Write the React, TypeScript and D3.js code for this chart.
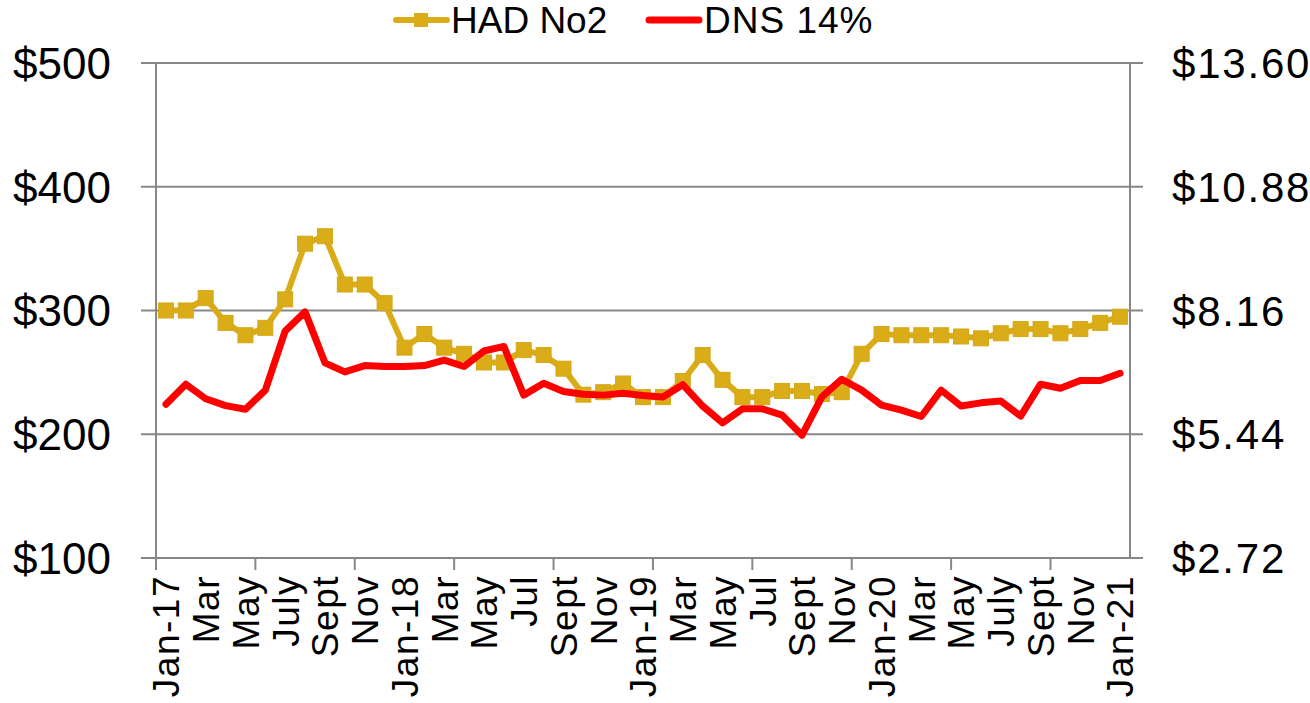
import React from "react";
import * as d3 from "d3";

const categories = [
  "Jan-17","Feb","Mar","Apr","May","Jun","July","Aug","Sept","Oct","Nov","Dec",
  "Jan-18","Feb","Mar","Apr","May","Jun","Jul","Aug","Sept","Oct","Nov","Dec",
  "Jan-19","Feb","Mar","Apr","May","Jun","Jul","Aug","Sept","Oct","Nov","Dec",
  "Jan-20","Feb","Mar","Apr","May","Jun","July","Aug","Sept","Oct","Nov","Dec",
  "Jan-21",
];

const hadNo2 = [
  300, 300, 310, 290, 280, 286, 309, 354, 360, 321, 321, 306,
  270, 281, 270, 265, 258, 258, 268, 264, 253, 232, 234, 241,
  230, 230, 243, 264, 244, 230, 230, 235, 235, 232.5, 234, 265,
  281, 280, 280, 280, 279, 277.5, 281.6, 285, 285, 281.6, 285, 290,
  295,
];

const dns14 = [
  6.10, 6.54, 6.22, 6.07, 5.99, 6.41, 7.71, 8.13, 7.01, 6.81, 6.95, 6.93,
  6.93, 6.95, 7.07, 6.93, 7.27, 7.37, 6.30, 6.56, 6.38, 6.32, 6.30, 6.34,
  6.29, 6.26, 6.53, 6.06, 5.69, 6.00, 6.00, 5.86, 5.42, 6.26, 6.65, 6.41,
  6.08, 5.97, 5.83, 6.41, 6.06, 6.13, 6.17, 5.84, 6.54, 6.45, 6.62, 6.62,
  6.78,
];

const leftTicks = [100, 200, 300, 400, 500];
const rightTicks = [2.72, 5.44, 8.16, 10.88, 13.6];

const GOLD = "#D9AC18";
const RED = "#FF0000";
const GRID = "#878787";

export default function App() {
  const W = 1310, H = 703;
  const left = 156, right = 1130, top = 63, bottom = 558;

  const x = d3.scaleBand<number>()
    .domain(d3.range(categories.length))
    .range([left, right])
    .paddingInner(0)
    .paddingOuter(0);
  const cx = (i: number) => (x(i) as number) + x.bandwidth() / 2;
  const yL = d3.scaleLinear().domain([100, 500]).range([bottom, top]);
  const yR = d3.scaleLinear().domain([2.72, 13.6]).range([bottom, top]);

  const lineL = d3.line<number>().x((_, i) => cx(i)).y((d) => yL(d));
  const lineR = d3.line<number>().x((_, i) => cx(i)).y((d) => yR(d));

  const tickIdx = d3.range(0, categories.length, 5);
  const geo = "'Liberation Sans', Arial, sans-serif";

  return (
    <svg
      width={W}
      height={H}
      style={{ position: "absolute", left: 0, top: 0, background: "#fff" }}
      fontFamily={geo}
    >
      {/* gridlines */}
      {leftTicks.map((t) => (
        <line key={"g" + t} x1={left} x2={right} y1={yL(t)} y2={yL(t)} stroke={GRID} strokeWidth={2} />
      ))}
      {/* axes */}
      <line x1={left} x2={left} y1={top} y2={bottom} stroke={GRID} strokeWidth={2} />
      <line x1={right} x2={right} y1={top} y2={bottom} stroke={GRID} strokeWidth={2} />
      <line x1={left} x2={right} y1={bottom} y2={bottom} stroke={GRID} strokeWidth={2} />
      {leftTicks.map((t) => (
        <line key={"lt" + t} x1={left - 15} x2={left} y1={yL(t)} y2={yL(t)} stroke={GRID} strokeWidth={2} />
      ))}
      {rightTicks.map((t) => (
        <line key={"rt" + t} x1={right} x2={right + 13} y1={yR(t)} y2={yR(t)} stroke={GRID} strokeWidth={2} />
      ))}
      {tickIdx.map((i) => (
        <line key={"xt" + i} x1={x(i) as number} x2={x(i) as number} y1={bottom} y2={bottom + 12} stroke={GRID} strokeWidth={2} />
      ))}
      {/* left labels */}
      {leftTicks.map((t) => (
        <text key={"ll" + t} x={111} y={yL(t)} dy="0.36em" textAnchor="end" fontSize={44} fill="#000">
          {"$" + t}
        </text>
      ))}
      {/* right labels */}
      {rightTicks.map((t) => (
        <text key={"rl" + t} x={1172} y={yR(t)} dy="0.36em" textAnchor="start" fontSize={42} letterSpacing={1.8} fill="#000">
          {"$" + t.toFixed(2)}
        </text>
      ))}
      {/* x labels */}
      {categories.map((c, i) =>
        i % 2 === 0 ? (
          <text
            key={"xl" + i}
            transform={`translate(${cx(i)},${bottom + 17}) rotate(-90)`}
            textAnchor="end"
            dy="0.36em"
            fontSize={37}
            letterSpacing={1.5}
            fill="#000"
          >
            {c}
          </text>
        ) : null
      )}
      {/* HAD line */}
      <path d={lineL(hadNo2) || ""} fill="none" stroke={GOLD} strokeWidth={6} strokeLinejoin="round" />
      {hadNo2.map((v, i) => (
        <rect key={"m" + i} x={cx(i) - 7.5} y={yL(v) - 7.5} width={15} height={15} fill={GOLD} stroke="#D4A817" strokeWidth={1} />
      ))}
      {/* DNS line */}
      <path d={lineR(dns14) || ""} fill="none" stroke={RED} strokeWidth={7} strokeLinejoin="round" strokeLinecap="round" />
      {/* legend */}
      <line x1={396} x2={447} y1={20} y2={20} stroke={GOLD} strokeWidth={6} strokeLinecap="round" />
      <rect x={414} y={13} width={14} height={14} fill={GOLD} />
      <text x={451} y={33} fontSize={37} fill="#000">HAD No2</text>
      <line x1={649} x2={699} y1={20} y2={20} stroke={RED} strokeWidth={7} strokeLinecap="round" />
      <text x={704} y={33} fontSize={37} letterSpacing={1} fill="#000">DNS 14%</text>
    </svg>
  );
}
